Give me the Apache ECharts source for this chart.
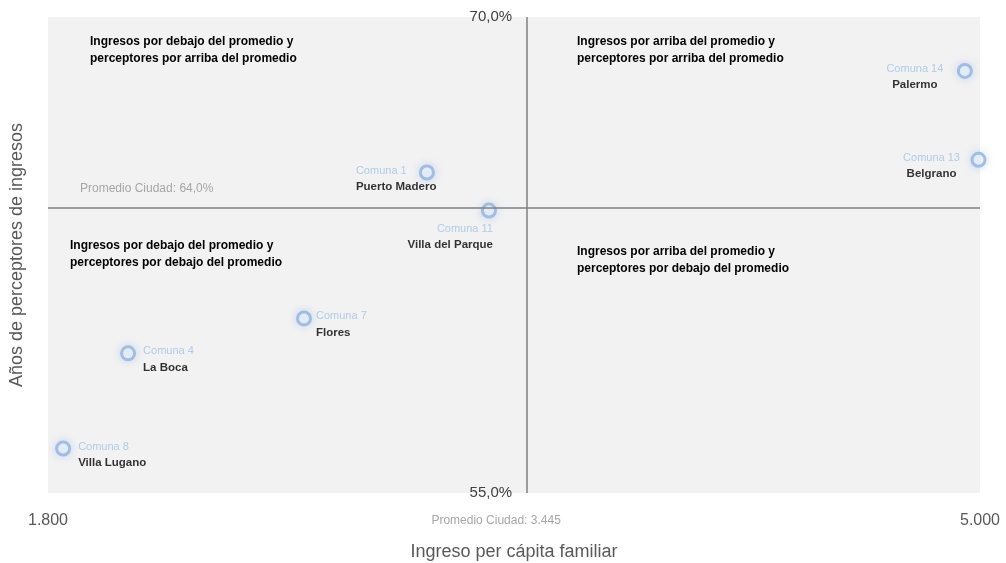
<!DOCTYPE html>
<html>
<head>
<meta charset="utf-8">
<script src="https://cdn.jsdelivr.net/npm/echarts@6/dist/echarts.min.js"></script>
<style>
  html, body { margin: 0; padding: 0; background: #fff; }
  #main { width: 1006px; height: 563px; }
</style>
</head>
<body>
<div id="main"></div>
<script>
// datos por comuna
var comunas = ['Comuna 14', 'Comuna 13', 'Comuna 1', 'Comuna 11', 'Comuna 7', 'Comuna 4', 'Comuna 8'];
var barrios = ['Palermo', 'Belgrano', 'Puerto Madero', 'Villa del Parque', 'Flores', 'La Boca', 'Villa Lugano'];
var ingreso = [4948, 4995, 3101, 3314, 2679, 2075, 1852];
var perceptores = [68.3, 65.5, 65.1, 63.9, 60.5, 59.4, 56.4];
var promedioIngreso = 3445;
var promedioPerceptores = 64.0;
var xTicks = [1800, 5000];
var yTicks = [55, 70];

// posicion de las etiquetas de cada punto
var labelPos = [
  { position: [-42, -2], align: 'center' },
  { position: [-39, -2], align: 'center' },
  { position: [-63, -2], align: 'left' },
  { position: [12, 18], align: 'right' },
  { position: [20, -2], align: 'left' },
  { position: [23, -2], align: 'left' },
  { position: [23, -2], align: 'left' }
];

var font = '"Liberation Sans", Arial, sans-serif';

function fmtMiles(v) {
  return String(Math.round(v)).replace(/\B(?=(\d{3})+(?!\d))/g, '.');
}
function fmtPct(v) {
  return v.toFixed(1).replace('.', ',') + '%';
}

var puntos = [];
for (var i = 0; i < comunas.length; i++) {
  puntos.push({
    value: [ingreso[i], perceptores[i]],
    label: { position: labelPos[i].position, align: labelPos[i].align, verticalAlign: 'top' }
  });
}

var quadStyle = { fontFamily: font, fontSize: 12, fontWeight: 'bold', fill: '#000', lineHeight: 17 };
function quad(left, top, text) {
  return { type: 'text', left: left, top: top, style: Object.assign({ text: text }, quadStyle) };
}

var myChart = echarts.init(document.getElementById('main'));

var option = {
  animation: false,
  textStyle: { fontFamily: font },
  grid: {
    left: 48, right: 26, top: 17, bottom: 70,
    outerBoundsMode: 'none',
    containLabel: false,
    show: true, backgroundColor: '#f2f2f2', borderWidth: 0
  },
  xAxis: {
    type: 'value',
    min: 1800, max: 5000,
    name: 'Ingreso per cápita familiar',
    nameLocation: 'middle',
    nameGap: 50,
    nameTextStyle: { color: '#595959', fontSize: 18 },
    axisLine: { show: false },
    axisTick: { show: false },
    splitLine: { show: false },
    axisLabel: {
      customValues: xTicks,
      margin: 20,
      color: '#595959',
      fontSize: 16,
      formatter: fmtMiles
    }
  },
  yAxis: {
    type: 'value',
    min: 55, max: 70,
    position: 'left',
    offset: 0,
    name: 'Años de perceptores de ingresos',
    nameLocation: 'middle',
    nameGap: 22,
    nameTextStyle: { color: '#595959', fontSize: 18 },
    axisLine: { show: false },
    axisTick: { show: false },
    splitLine: { show: false },
    axisLabel: {
      customValues: yTicks,
      margin: 15,
      color: '#404040',
      fontSize: 15,
      formatter: fmtPct
    }
  },
  graphic: [
    quad(90, 33, 'Ingresos por debajo del promedio y\nperceptores por arriba del promedio'),
    quad(577, 33, 'Ingresos por arriba del promedio y\nperceptores por arriba del promedio'),
    quad(70, 237, 'Ingresos por debajo del promedio y\nperceptores por debajo del promedio'),
    quad(577, 243, 'Ingresos por arriba del promedio y\nperceptores por debajo del promedio')
  ],
  series: [{
    type: 'scatter',
    data: puntos,
    symbol: 'circle',
    symbolSize: 13,
    itemStyle: {
      color: 'rgba(255,255,255,0.7)',
      borderColor: '#8db3e2',
      borderWidth: 3,
      shadowBlur: 8,
      shadowColor: 'rgba(141,179,226,0.5)'
    },
    label: {
      show: true,
      formatter: function (p) {
        return '{c|' + comunas[p.dataIndex] + '}\n{n|' + barrios[p.dataIndex] + '}';
      },
      rich: {
        c: { color: '#9dc3e6', fontSize: 11, lineHeight: 16 },
        n: { color: '#000', fontSize: 11.5, fontWeight: 'bold', lineHeight: 16 }
      }
    },
    markLine: {
      silent: true,
      symbol: 'none',
      lineStyle: { color: '#7f7f7f', width: 1.5, type: 'solid' },
      label: { color: '#a6a6a6', fontSize: 12 },
      data: [
        {
          xAxis: promedioIngreso,
          label: { position: 'start', distance: 22, offset: [-31, 0], formatter: 'Promedio Ciudad: ' + fmtMiles(promedioIngreso) }
        },
        {
          yAxis: promedioPerceptores,
          label: { position: 'insideStartTop', distance: [32, 13], formatter: 'Promedio Ciudad: ' + fmtPct(promedioPerceptores) }
        }
      ]
    }
  }]
};

myChart.setOption(option);

// mover el eje Y hasta la linea del promedio de ingreso
var xPix = myChart.convertToPixel({ xAxisIndex: 0 }, promedioIngreso);
var xMin = myChart.convertToPixel({ xAxisIndex: 0 }, xTicks[0]);
myChart.setOption({
  yAxis: {
    offset: -(xPix - xMin),
    nameGap: (xPix - xMin) + 22
  }
});
</script>
</body>
</html>
